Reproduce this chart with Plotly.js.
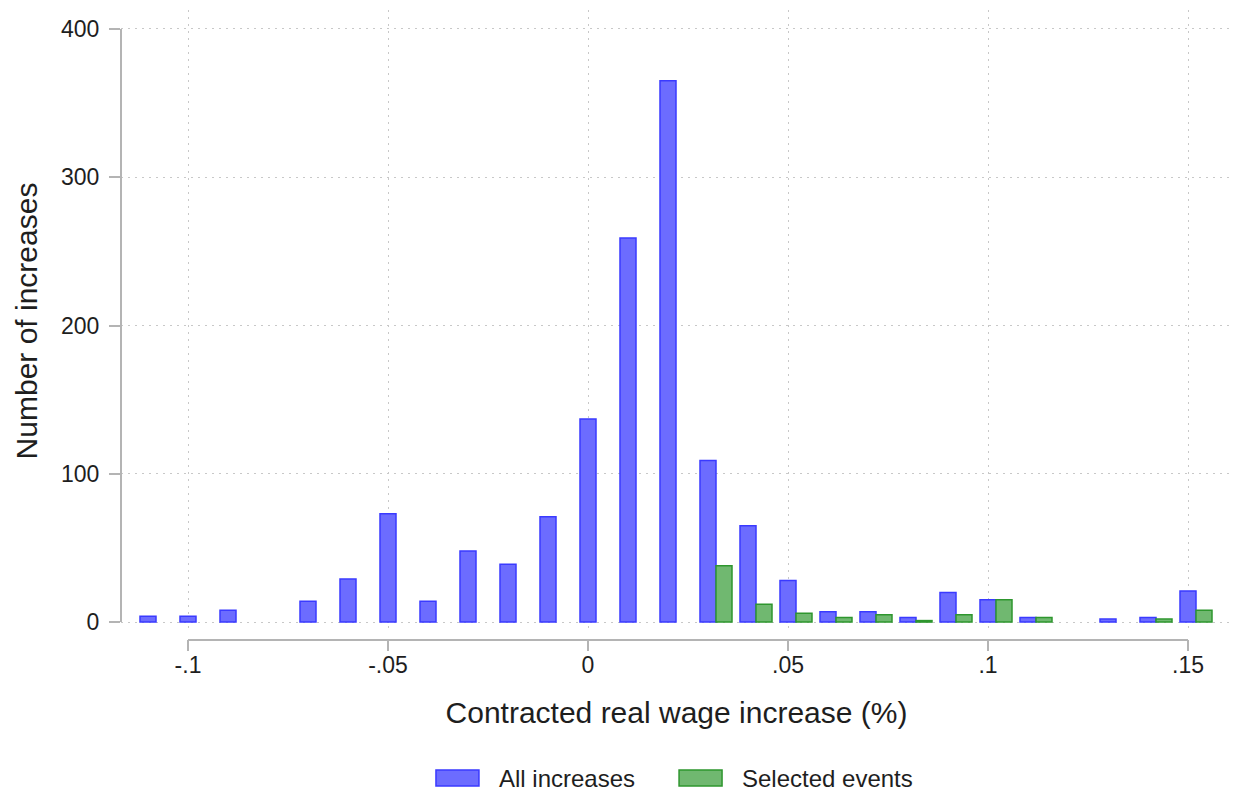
<!DOCTYPE html>
<html>
<head>
<meta charset="utf-8">
<script src="https://cdn.plot.ly/plotly-3.0.1.min.js"></script>
<style>html,body{margin:0;padding:0;background:#fff;}#chart{width:1238px;height:795px;}</style>
</head>
<body>
<div id="chart"></div>
<script>
// Bin centres (contracted real wage increase)
const binsAll = [-0.11,-0.10,-0.09,-0.07,-0.06,-0.05,-0.04,-0.03,-0.02,-0.01,0,0.01,0.02,0.03,0.04,0.05,0.06,0.07,0.08,0.09,0.10,0.11,0.13,0.14,0.15];
const countsAll = [4,4,8,14,29,73,14,48,39,71,137,259,365,109,65,28,7,7,3,20,15,3,2,3,21];
const binsSel = [0.03,0.04,0.05,0.06,0.07,0.08,0.09,0.10,0.11,0.14,0.15];
const countsSel = [38,12,6,3,5,1,5,15,3,2,8];
const xTickVals = [-0.1,-0.05,0,0.05,0.1,0.15];
const xTickText = ['-.1','-.05','0','.05','.1','.15'];
const yTickVals = [0,100,200,300,400];
const seriesNames = ['All increases','Selected events'];

const FONT = 'Liberation Sans, Arial, sans-serif';
const TXT = '#1e1e1e';
const AXC = '#b4b4b4';
const fills = ['#6c6cff','#70b870'];
const edges = ['#3a3aff','#2e962e'];

const traces = [
  {type:'bar', name:seriesNames[0], x:binsAll, y:countsAll, width:0.004, offset:-0.002, showlegend:false,
   marker:{color:fills[0], line:{color:edges[0], width:1.5}}},
  {type:'bar', name:seriesNames[1], x:binsSel, y:countsSel, width:0.004, offset:0.002, showlegend:false,
   marker:{color:fills[1], line:{color:edges[1], width:1.5}}}
];

const axisY = -0.0129, tickY = -0.0306;
const shapes = [
  {type:'line', xref:'x', yref:'paper', x0:xTickVals[0], x1:xTickVals[xTickVals.length-1], y0:axisY, y1:axisY, line:{color:AXC, width:2}},
  {type:'line', xref:'paper', yref:'y', x0:0, x1:0, y0:yTickVals[0], y1:yTickVals[yTickVals.length-1], line:{color:AXC, width:2}}
].concat(xTickVals.map(v => ({type:'line', xref:'x', yref:'paper', x0:v, x1:v, y0:axisY, y1:tickY, line:{color:AXC, width:2}})));

// legend (swatches + labels) below the plot
const legX = [0.2835, 0.5023];
const legY0 = -0.2476, legY1 = -0.2219;
legX.forEach((lx, i) => {
  shapes.push({type:'rect', xref:'paper', yref:'paper', x0:lx, x1:lx+0.0387, y0:legY0, y1:legY1,
    fillcolor:fills[i], line:{color:edges[i], width:1.5}});
});
const annotations = legX.map((lx, i) => ({xref:'paper', yref:'paper', x:lx+0.0549, y:(legY0+legY1)/2,
  xanchor:'left', yanchor:'middle', showarrow:false, text:seriesNames[i], font:{size:24, color:TXT}}));

const layout = {
  width:1238, height:795,
  margin:{l:121, r:6, t:10, b:163},
  paper_bgcolor:'#fff', plot_bgcolor:'#fff',
  barmode:'overlay',
  font:{family:FONT, color:TXT, size:23},
  showlegend:false,
  xaxis:{range:[-0.11675,0.161], tickvals:xTickVals, ticktext:xTickText, ticks:'outside', ticklen:12, tickcolor:'rgba(0,0,0,0)',
    showgrid:true, gridcolor:'#c8c8c8', griddash:'2px,5px', gridwidth:1, zeroline:false, showline:false, automargin:false,
    tickfont:{size:23, color:TXT},
    title:{text:'Contracted real wage increase (%)', font:{size:30, color:TXT}, standoff:25}},
  yaxis:{range:[-6.7,412.8], tickvals:yTickVals, ticks:'outside', ticklen:11, tickwidth:2, tickcolor:AXC, ticklabelstandoff:5,
    showgrid:true, gridcolor:'#c8c8c8', griddash:'2px,5px', gridwidth:1, zeroline:false, showline:false, automargin:false,
    tickfont:{size:23, color:TXT},
    title:{text:'Number of increases', font:{size:30, color:TXT}, standoff:14}},
  shapes:shapes,
  annotations:annotations
};

Plotly.newPlot('chart', traces, layout, {displayModeBar:false, staticPlot:true});
</script>
</body>
</html>
